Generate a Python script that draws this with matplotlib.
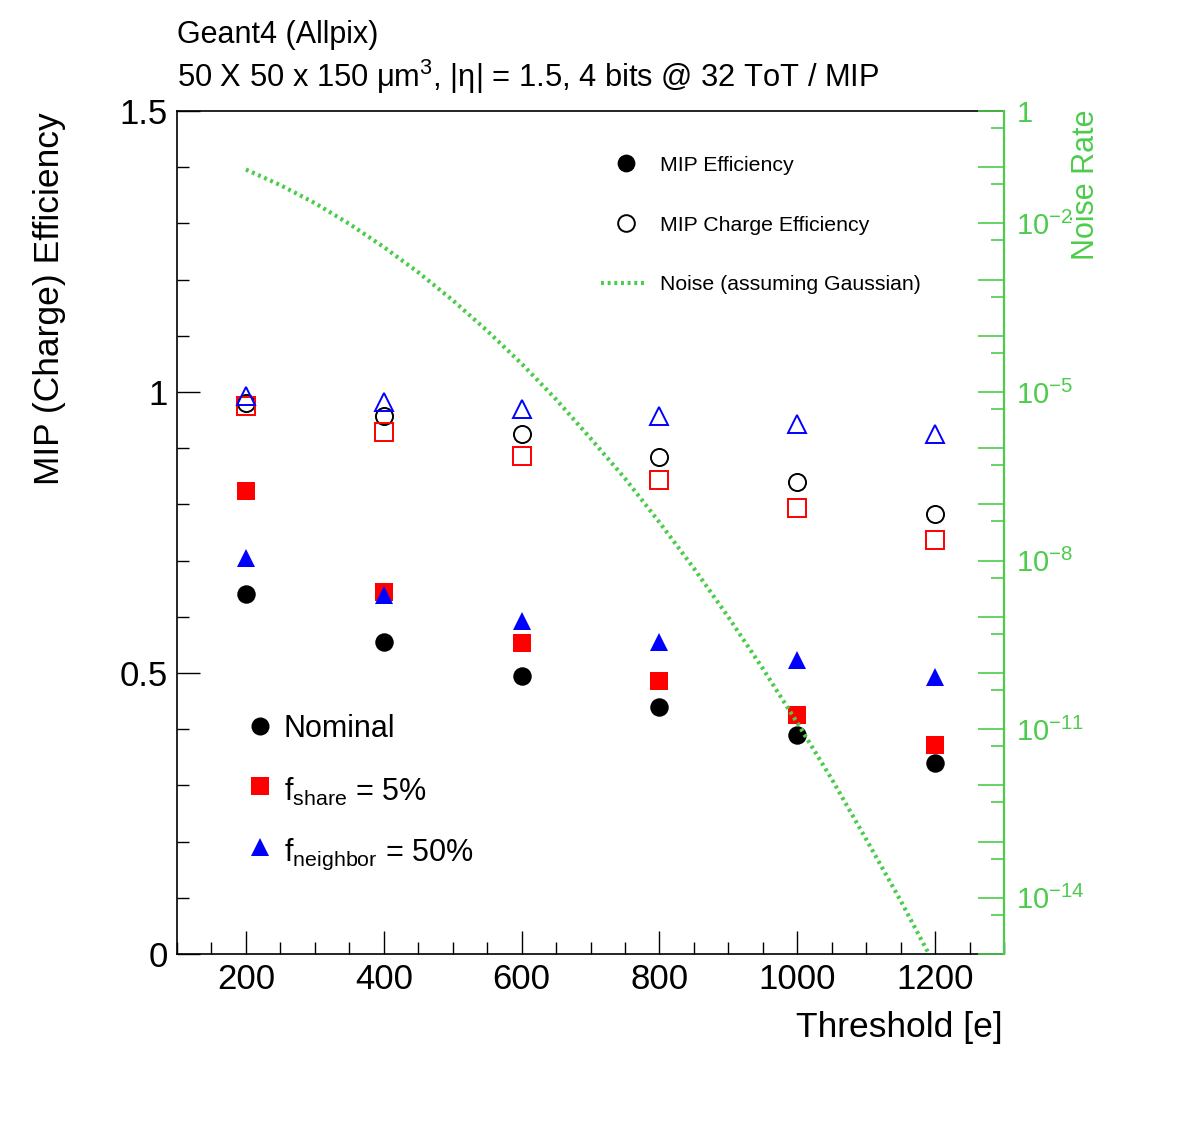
import math
import matplotlib
matplotlib.use('Agg')
import matplotlib.pyplot as plt
from matplotlib.lines import Line2D
from matplotlib.ticker import FixedLocator, MultipleLocator, FuncFormatter, NullFormatter

plt.rcParams['font.family'] = ['Liberation Sans', 'DejaVu Sans']
plt.rcParams['mathtext.fontset'] = 'custom'
plt.rcParams['mathtext.rm'] = 'Liberation Sans'
plt.rcParams['mathtext.it'] = 'Liberation Sans:italic'
plt.rcParams['mathtext.bf'] = 'Liberation Sans:bold'

# ---------------- data ----------------
thresholds = [200, 400, 600, 800, 1000, 1200]
nominal_eff = [0.640, 0.556, 0.495, 0.439, 0.390, 0.340]
nominal_charge_eff = [0.981, 0.957, 0.925, 0.885, 0.839, 0.783]
share_eff = [0.824, 0.645, 0.553, 0.486, 0.425, 0.371]
share_charge_eff = [0.975, 0.928, 0.886, 0.843, 0.793, 0.737]
neighbor_eff = [0.705, 0.639, 0.593, 0.555, 0.523, 0.493]
neighbor_charge_eff = [0.993, 0.982, 0.970, 0.957, 0.943, 0.925]

noise_threshold = [200, 250, 300, 350, 400, 450, 500, 550, 600, 650, 700,
                   750, 800, 850, 900, 950, 1000, 1050, 1100, 1150, 1200]
noise_rate = [9.1e-2, 4.8e-2, 2.3e-2, 9.8e-3, 3.8e-3, 1.35e-3, 4.3e-4, 1.23e-4,
              3.2e-5, 7.4e-6, 1.5e-6, 2.9e-7, 4.8e-8, 7.3e-9, 9.9e-10, 1.2e-10,
              1.3e-11, 1.3e-12, 1.1e-13, 8.9e-15, 6.2e-16]

x_ticks = [200, 400, 600, 800, 1000, 1200]
y_ticks = [0, 0.5, 1, 1.5]
y_tick_labels = ['0', '0.5', '1', '1.5']
right_labels = {0: '1', -2: r'$10^{-2}$', -5: r'$10^{-5}$', -8: r'$10^{-8}$',
                -11: r'$10^{-11}$', -14: r'$10^{-14}$'}

GREEN = '#4ccc4c'
NOISE_LS = (0, (0.7, 0.9))
W, H = 1182, 1123

fig = plt.figure(figsize=(W / 100, H / 100), dpi=100)
ax = fig.add_axes([177 / W, 1 - 954 / H, (1004 - 177) / W, (954 - 111) / H])
ax.set_xlim(100, 1300)
ax.set_ylim(0, 1.5)

ms = 13.3
# filled markers
ax.plot(thresholds, nominal_eff, 'o', color='black', ms=ms, mew=0, ls='none')
ax.plot(thresholds, share_eff, 's', color='red', ms=ms, mew=0, ls='none')
ax.plot(thresholds, neighbor_eff, '^', color='blue', ms=ms, mew=0, ls='none')
# open markers
ax.plot(thresholds, nominal_charge_eff, 'o', mfc='none', mec='black', ms=ms - 1, mew=1.4, ls='none')
ax.plot(thresholds, share_charge_eff, 's', mfc='none', mec='red', ms=ms - 1, mew=1.4, ls='none')
ax.plot(thresholds, neighbor_charge_eff, '^', mfc='none', mec='blue', ms=ms - 0.5, mew=1.4, ls='none')

ax.xaxis.set_major_locator(FixedLocator(x_ticks))
ax.xaxis.set_minor_locator(MultipleLocator(50))
ax.yaxis.set_major_locator(FixedLocator(y_ticks))


def lfmt(v, p):
    r = round(v, 1)
    return y_tick_labels[y_ticks.index(r)] if r in y_ticks else ''


ax.yaxis.set_major_formatter(FuncFormatter(lfmt))
ax.yaxis.set_minor_locator(MultipleLocator(0.1))
ax.tick_params(axis='both', which='major', direction='in', length=16.6, width=1.0,
               labelsize=25, pad=6.5, top=False, right=False)
ax.tick_params(axis='both', which='minor', direction='in', length=8.6, width=1.0,
               top=False, right=False)
for s in ax.spines.values():
    s.set_linewidth(1.2)
ax.spines['right'].set_visible(False)

# right axis
ax2 = ax.twinx()
ax2.set_yscale('log')
ax2.set_ylim(1e-15, 1)
ax2.plot(noise_threshold, noise_rate, color=GREEN, lw=3.0, ls=NOISE_LS)
ax2.yaxis.set_major_locator(FixedLocator([10.0 ** k for k in range(-15, 1)]))
ax2.yaxis.set_minor_locator(FixedLocator([5 * 10.0 ** k for k in range(-15, 0)]))
ax2.yaxis.set_minor_formatter(NullFormatter())


def rfmt(v, p):
    k = int(round(math.log10(v)))
    return right_labels.get(k, '')


ax2.yaxis.set_major_formatter(FuncFormatter(rfmt))
ax2.tick_params(axis='y', which='major', direction='in', length=18.7, width=1.2,
                colors=GREEN, labelsize=21, pad=9)
ax2.tick_params(axis='y', which='minor', direction='in', length=9.4, width=1.2, colors=GREEN)
for s in ['left', 'top', 'bottom']:
    ax2.spines[s].set_visible(False)
ax2.spines['right'].set_color(GREEN)
ax2.spines['right'].set_linewidth(1.6)

# overlay for texts and legends in pixel coordinates
ov = fig.add_axes([0, 0, 1, 1], facecolor='none')
ov.set_xlim(0, W)
ov.set_ylim(H, 0)
ov.axis('off')

ov.text(177, 43, 'Geant4 (Allpix)', fontsize=22, ha='left', va='baseline')
ov.text(177, 87, r'50 X 50 x 150 $\mathrm{\mu}$m$^{3}$, |η| = 1.5, 4 bits @ 32 ToT / MIP',
        fontsize=22.2, ha='left', va='baseline')
ov.text(50, 112, 'MIP (Charge) Efficiency', fontsize=25.5, rotation=90, ha='center', va='top')
ov.text(1003, 1028, 'Threshold [e]', fontsize=25.5, ha='right', va='center')
ov.text(1086, 110, 'Noise Rate', fontsize=22, rotation=90, ha='center', va='top', color=GREEN)

# top-right legend
ov.plot([626], [163], 'o', color='black', ms=12.8, mew=0)
ov.plot([626], [223], 'o', mfc='none', mec='black', ms=12, mew=1.4)
ov.add_line(Line2D([601, 647], [283, 283], color=GREEN, lw=3.0, ls=NOISE_LS))
ov.text(660, 170.6, 'MIP Efficiency', fontsize=15.3, ha='left', va='baseline')
ov.text(660, 230.6, 'MIP Charge Efficiency', fontsize=15.3, ha='left', va='baseline')
ov.text(660, 290, 'Noise (assuming Gaussian)', fontsize=15.3, ha='left', va='baseline')

# bottom-left legend
ov.plot([260], [726], 'o', color='black', ms=13, mew=0)
ov.plot([260], [786], 's', color='red', ms=13, mew=0)
ov.plot([260], [847], '^', color='blue', ms=13, mew=0)
ov.text(284, 737, 'Nominal', fontsize=22, ha='left', va='baseline')
ov.text(284, 801, r'f$_{\mathrm{share}}$ = 5%', fontsize=22, ha='left', va='baseline')
ov.text(284, 861, r'f$_{\mathrm{neighbor}}$ = 50%', fontsize=22, ha='left', va='baseline')

fig.savefig('out.png', dpi=100)
